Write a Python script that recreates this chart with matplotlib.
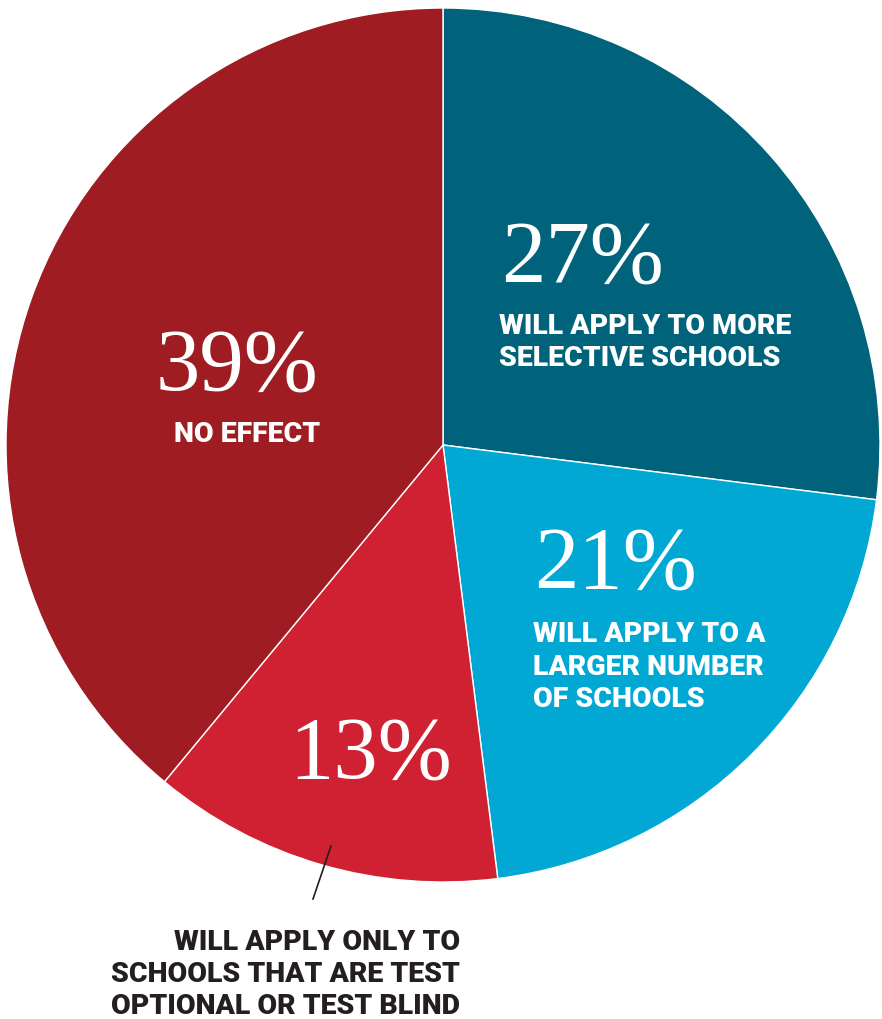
import matplotlib
matplotlib.use("Agg")
import matplotlib.pyplot as plt

categories = ["Will apply to more selective schools",
              "Will apply to a larger number of schools",
              "Will apply only to schools that are test optional or test blind",
              "No effect"]
values = [27, 21, 13, 39]
pct_labels = ["27%", "21%", "13%", "39%"]
desc_labels = ["WILL APPLY TO MORE\nSELECTIVE SCHOOLS",
               "WILL APPLY TO A\nLARGER NUMBER\nOF SCHOOLS",
               "WILL APPLY ONLY TO\nSCHOOLS THAT ARE TEST\nOPTIONAL OR TEST BLIND",
               "NO EFFECT"]
colors = ["#00637b", "#00a8d3", "#cf2131", "#9e1c22"]

W, H = 882, 1019
fig = plt.figure(figsize=(W / 100, H / 100), dpi=100)
ax = fig.add_axes([0, 0, 1, 1])

cx, cy, r = 443, 445, 437
ax.pie(values, colors=colors, startangle=90, counterclock=False,
       center=(cx, H - cy), radius=r,
       wedgeprops=dict(linewidth=1.0, edgecolor="white"))
ax.set_xlim(0, W)
ax.set_ylim(0, H)
ax.set_aspect("equal")
ax.axis("off")

serif = dict(family=["Liberation Serif", "DejaVu Serif"], fontsize=64,
             color="white", va="baseline")
sans = dict(family=["Roboto", "DejaVu Sans"], fontweight="black", fontsize=20.5,
            va="baseline", linespacing=1.25)

def Y(py):
    return H - py

# 27%
ax.text(501, Y(282), pct_labels[0], ha="left", **serif)
ax.text(499, Y(366), desc_labels[0], ha="left", color="white", **sans)
# 21%
ax.text(534, Y(588), pct_labels[1], ha="left", **serif)
ax.text(533, Y(707), desc_labels[1], ha="left", color="white", **sans)
# 13%
ax.text(289, Y(778), pct_labels[2], ha="left", **serif)
ax.text(460, Y(1014), desc_labels[2], ha="right", multialignment="right",
        color="#231f20", **sans)
# 39%
ax.text(156, Y(390), pct_labels[3], ha="left", **serif)
ax.text(247, Y(442), desc_labels[3], ha="center", color="white", **sans)

# leader line
ax.plot([331, 313], [Y(846), Y(899)], color="#231f20", lw=1.2)

fig.savefig("out.png", dpi=100)
